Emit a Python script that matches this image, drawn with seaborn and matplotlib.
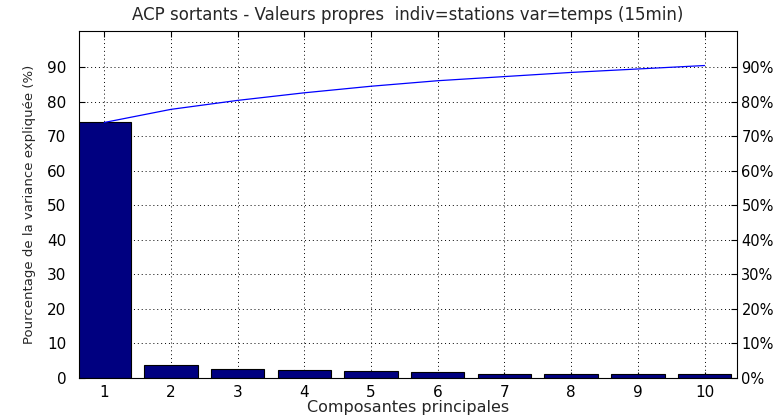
import numpy as np
import pandas as pd
import matplotlib
matplotlib.use("Agg")
import matplotlib.pyplot as plt
import seaborn as sns

# Explained variance per principal component (%)
components = ["1", "2", "3", "4", "5", "6", "7", "8", "9", "10"]
variance = [74.0, 3.8, 2.6, 2.2, 1.9, 1.6, 1.2, 1.2, 1.0, 1.0]
cumulative = list(np.cumsum(variance))

y_ticks = [0, 10, 20, 30, 40, 50, 60, 70, 80, 90]
right_labels = [f"{t}%" for t in y_ticks]

title = "ACP sortants - Valeurs propres  indiv=stations var=temps (15min)"
xlabel = "Composantes principales"
ylabel = "Pourcentage de la variance expliquée (%)"

sns.set_theme(style="white")
plt.rcParams["font.family"] = ["DejaVu Sans"]

df = pd.DataFrame({"comp": components, "var": variance,
                   "pos": np.arange(len(components)), "cum": cumulative})

fig = plt.figure(figsize=(7.81, 4.19), dpi=100)
ax = fig.add_axes([0.101, 0.098, 0.843, 0.828])

sns.barplot(data=df, x="comp", y="var", color="#000080", saturation=1,
            edgecolor="black", linewidth=0.8, width=0.8, ax=ax, zorder=2)
sns.lineplot(data=df, x="pos", y="cum", color="#0000ff", linewidth=0.9,
             ax=ax, zorder=3)

ax.set_xlim(-0.38, 9.49)
ax.set_ylim(0, 100.5)
ax.set_yticks(y_ticks)
ax.grid(True, linestyle=(0, (1, 3)), color="black", linewidth=0.7)
ax.set_axisbelow(True)

ax.tick_params(axis="both", direction="in", length=4, width=0.8,
               labelsize=11, colors="black", top=True, bottom=True,
               left=True, right=False)
ax.tick_params(axis="y", pad=9)
ax.tick_params(axis="x", pad=5)
for s in ax.spines.values():
    s.set_color("black")
    s.set_linewidth(0.8)

ax.set_xlabel(xlabel, fontsize=11.5, labelpad=0)
ax.set_ylabel(ylabel, fontsize=9.5, labelpad=8)
ax.set_title(title, fontsize=12, pad=8)

ax2 = ax.twinx()
ax2.set_ylim(ax.get_ylim())
ax2.set_yticks(y_ticks)
ax2.set_yticklabels(right_labels)
ax2.tick_params(axis="y", direction="in", length=4, width=0.8,
                labelsize=10.5, colors="black", pad=3)
ax2.grid(False)
for s in ax2.spines.values():
    s.set_visible(False)

fig.savefig("out.png", dpi=100, facecolor="white")
